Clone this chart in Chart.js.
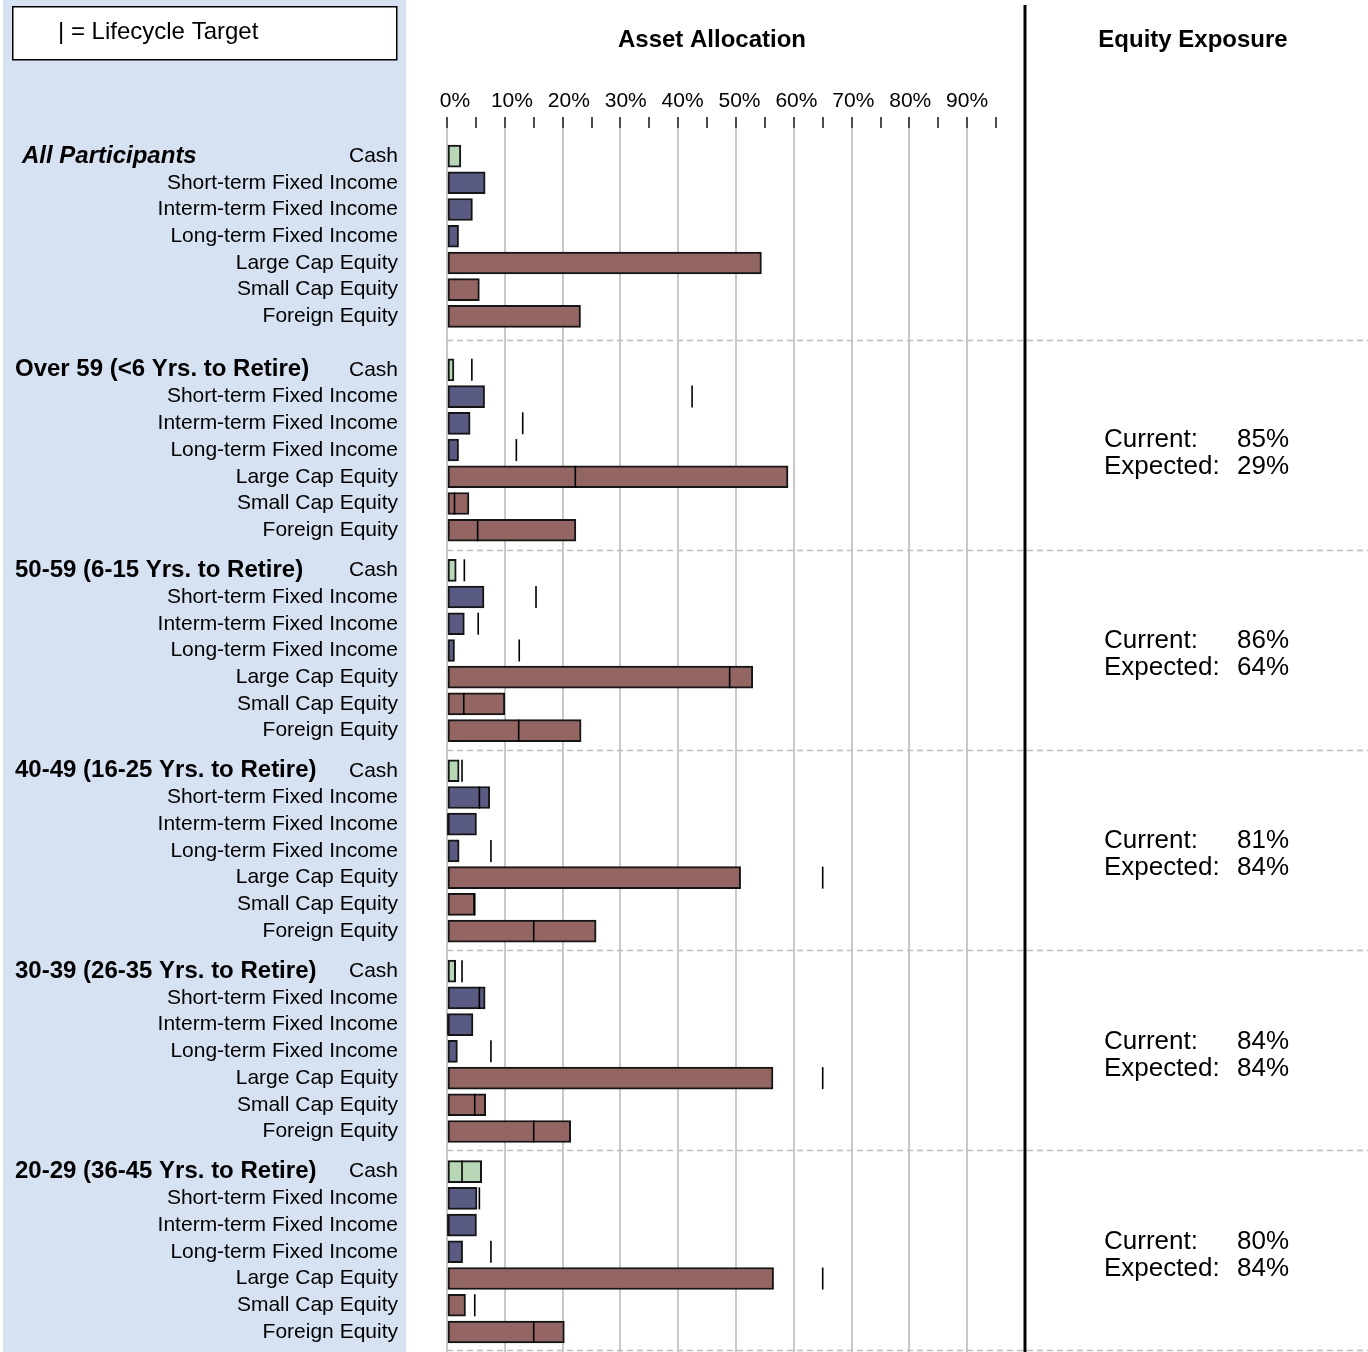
<!DOCTYPE html>
<html>
<head>
<meta charset="utf-8">
<title>Asset Allocation</title>
<script src="https://cdn.jsdelivr.net/npm/chart.js@4.4.1/dist/chart.umd.min.js"></script>
<style>
    html, body { margin: 0; padding: 0; background: #fff; }
    canvas { display: block; }
</style>
</head>
<body>
<canvas id="allocationChart" width="1368" height="1352"></canvas>
<script>
// asset classes, same order in every group
var assetClasses = ['Cash', 'Short-term Fixed Income', 'Interm-term Fixed Income', 'Long-term Fixed Income',
    'Large Cap Equity', 'Small Cap Equity', 'Foreign Equity'];
var groupNames = ['All Participants', 'Over 59 (<6 Yrs. to Retire)', '50-59 (6-15 Yrs. to Retire)',
    '40-49 (16-25 Yrs. to Retire)', '30-39 (26-35 Yrs. to Retire)', '20-29 (36-45 Yrs. to Retire)'];

// current allocation (% of balance)
var allParticipants = [2.4, 6.6, 4.4, 2.0, 54.4, 5.6, 23.1];
var over59 = [1.2, 6.5, 4.0, 2.0, 59.0, 3.8, 22.3];
var age50to59 = [1.6, 6.4, 3.0, 1.3, 52.9, 10.0, 23.2];
var age40to49 = [2.1, 7.4, 5.1, 2.1, 50.8, 4.8, 25.8];
var age30to39 = [1.5, 6.6, 4.5, 1.8, 56.4, 6.7, 21.4];
var age20to29 = [6.0, 5.2, 5.1, 2.7, 56.5, 3.2, 20.3];

// lifecycle targets (no target for all participants)
var over59Target = [4.3, 42.4, 13.1, 12.0, 22.2, 1.3, 5.3];
var age50to59Target = [3.0, 15.4, 5.4, 12.5, 48.9, 2.9, 12.4];
var age40to49Target = [2.6, 5.6, 0, 7.6, 65.0, 4.8, 15.0];
var age30to39Target = [2.6, 5.6, 0, 7.6, 65.0, 4.8, 15.0];
var age20to29Target = [2.6, 5.6, 0, 7.6, 65.0, 4.8, 15.0];

// equity exposure per age group
var currentEquity = [85, 86, 81, 84, 80];
var expectedEquity = [29, 64, 84, 84, 84];

var axisTicks = [0, 10, 20, 30, 40, 50, 60, 70, 80, 90];

// ---- layout / style ----
var FONT = '"Liberation Sans", Arial, Helvetica, sans-serif';
var GROUP_START = [0, 8, 15.5, 23, 30.5, 38];
var SEPARATORS = [6.88, 14.74, 22.22, 29.71, 37.19, 44.67];
var CLASS_COLORS = ['#b7d7b6', '#5a5b83', '#5a5b83', '#5a5b83', '#946663', '#946663', '#946663'];

var allocations = [allParticipants, over59, age50to59, age40to49, age30to39, age20to29];
var targets = [null, over59Target, age50to59Target, age40to49Target, age30to39Target, age20to29Target];

var barPoints = [];
var barColors = [];
var targetPoints = [];
var rowPositions = [];
var rowNames = [];

allocations.forEach(function (values, g) {
    values.forEach(function (v, r) {
        var pos = GROUP_START[g] + r;
        barPoints.push({ x: v, y: pos });
        barColors.push(CLASS_COLORS[r]);
        rowPositions.push(pos);
        rowNames.push(assetClasses[r]);
        if (targets[g]) {
            targetPoints.push({ x: targets[g][r], y: pos });
        }
    });
});

var decorations = {
    id: 'decorations',
    beforeDraw: function (chart) {
        var ctx = chart.ctx;
        ctx.save();
        ctx.fillStyle = '#ffffff';
        ctx.fillRect(0, 0, chart.width, chart.height);
        ctx.fillStyle = '#d6e1f2';
        ctx.fillRect(3, 0, 403, chart.height);

        // lifecycle target key
        ctx.fillStyle = '#ffffff';
        ctx.fillRect(12, 6, 385, 54);
        ctx.strokeStyle = '#000';
        ctx.lineWidth = 1.5;
        ctx.strokeRect(12.75, 6.75, 384, 53);
        ctx.fillStyle = '#000';
        ctx.font = '24px ' + FONT;
        ctx.textBaseline = 'middle';
        ctx.textAlign = 'left';
        ctx.fillText('| = Lifecycle Target', 58, 32);
        ctx.restore();
    },
    beforeDatasetsDraw: function (chart) {
        var ctx = chart.ctx;
        var y = chart.scales.y;
        ctx.save();
        ctx.strokeStyle = '#bdbdbd';
        ctx.lineWidth = 1.3;
        ctx.setLineDash([6, 4]);
        SEPARATORS.forEach(function (s) {
            var py = Math.round(y.getPixelForValue(s)) + 0.5;
            ctx.beginPath();
            ctx.moveTo(chart.chartArea.left, py);
            ctx.lineTo(chart.width, py);
            ctx.stroke();
        });
        ctx.restore();
    },
    afterDraw: function (chart) {
        var ctx = chart.ctx;
        var x = chart.scales.x;
        var y = chart.scales.y;
        ctx.save();

        // divider before the exposure panel
        var divX = x.getPixelForValue(100);
        ctx.strokeStyle = '#000';
        ctx.lineWidth = 3;
        ctx.beginPath();
        ctx.moveTo(divX, 5);
        ctx.lineTo(divX, chart.height);
        ctx.stroke();

        ctx.fillStyle = '#000';
        ctx.textBaseline = 'middle';
        ctx.textAlign = 'center';
        ctx.font = 'bold 24px ' + FONT;
        ctx.fillText('Asset Allocation', 712, 40);
        ctx.fillText('Equity Exposure', 1193, 40);

        ctx.textAlign = 'left';
        groupNames.forEach(function (name, g) {
            var py = y.getPixelForValue(GROUP_START[g]);
            if (g === 0) {
                ctx.font = 'italic bold 24px ' + FONT;
                ctx.fillText(name, 22, py);
            } else {
                ctx.font = 'bold 24px ' + FONT;
                ctx.fillText(name, 15, py);
            }
        });

        ctx.font = '26px ' + FONT;
        currentEquity.forEach(function (cur, i) {
            var mid = y.getPixelForValue(GROUP_START[i + 1] + 3);
            ctx.fillText('Current:', 1104, mid - 10);
            ctx.fillText(cur + '%', 1237, mid - 10);
            ctx.fillText('Expected:', 1104, mid + 17);
            ctx.fillText(expectedEquity[i] + '%', 1237, mid + 17);
        });
        ctx.restore();
    }
};

Chart.defaults.font.family = FONT;
Chart.defaults.color = '#000';

new Chart(document.getElementById('allocationChart'), {
    type: 'bar',
    data: {
        datasets: [
            {
                type: 'scatter',
                data: targetPoints,
                xAxisID: 'x',
                yAxisID: 'y',
                pointStyle: 'line',
                rotation: 90,
                pointRadius: 11,
                pointHoverRadius: 11,
                borderColor: '#000',
                pointBorderWidth: 1.6,
                order: 0
            },
            {
                type: 'bar',
                data: barPoints,
                xAxisID: 'x',
                yAxisID: 'y',
                backgroundColor: barColors,
                borderColor: '#151515',
                borderWidth: 2,
                borderSkipped: false,
                barThickness: 22,
                order: 1
            }
        ]
    },
    options: {
        indexAxis: 'y',
        responsive: false,
        animation: false,
        events: [],
        layout: { autoPadding: false, padding: { left: 0, right: 343, top: 0, bottom: 0 } },
        plugins: {
            legend: { display: false },
            tooltip: { enabled: false }
        },
        scales: {
            x: {
                type: 'linear',
                position: 'top',
                min: 0,
                max: 100,
                weight: 0,
                offset: false,
                border: { display: false },
                grid: {
                    color: function (c) {
                        var v = c.tick ? c.tick.value : 0;
                        return (v % 10 === 0 && v < 100) ? '#c9c9c9' : 'rgba(0,0,0,0)';
                    },
                    lineWidth: 2,
                    tickColor: '#000',
                    tickWidth: 1.4,
                    tickLength: 11
                },
                ticks: { display: false, stepSize: 5, autoSkip: false },
                afterFit: function (scale) { scale.height = 11; }
            },
            x2: {
                type: 'linear',
                position: 'top',
                min: -1.41,
                max: 100.17,
                weight: 1,
                offset: false,
                border: { display: false },
                grid: { display: false, drawTicks: false },
                afterBuildTicks: function (scale) {
                    scale.ticks = axisTicks.map(function (v) { return { value: v }; });
                },
                ticks: {
                    autoSkip: false,
                    maxRotation: 0,
                    padding: 3.4,
                    font: { size: 21 },
                    callback: function (v) { return v + '%'; }
                },
                afterFit: function (scale) { scale.height = 117; }
            },
            y: {
                type: 'linear',
                reverse: true,
                min: -1.05,
                max: 44.75,
                offset: false,
                border: { display: false },
                grid: { display: false, drawTicks: false, offset: false },
                afterBuildTicks: function (scale) {
                    scale.ticks = rowPositions.map(function (v) { return { value: v }; });
                },
                ticks: {
                    autoSkip: false,
                    padding: 49,
                    font: { size: 21 },
                    callback: function (v, i) { return rowNames[i]; }
                },
                afterFit: function (scale) {
                    scale.width = 447;
                    scale.paddingTop = 0;
                    scale.paddingBottom = 0;
                }
            }
        }
    },
    plugins: [decorations]
});
</script>
</body>
</html>
